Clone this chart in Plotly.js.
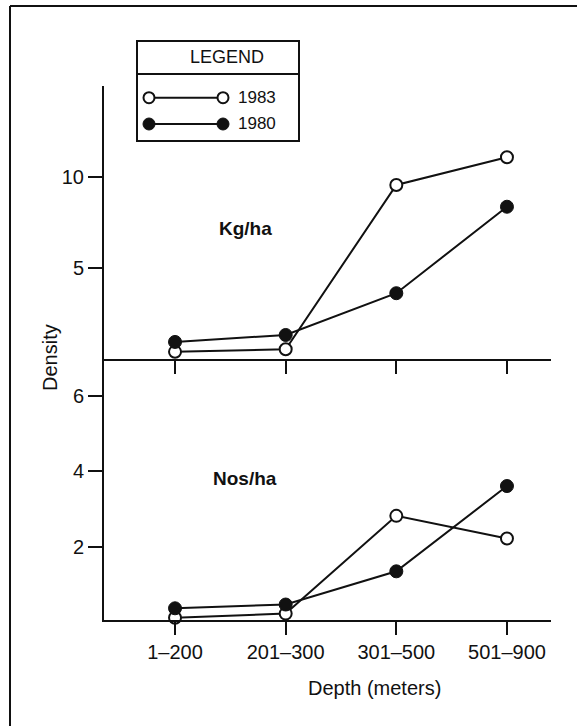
<!DOCTYPE html>
<html><head><meta charset="utf-8">
<script src="https://cdn.plot.ly/plotly-3.0.1.min.js"></script>
<style>html,body{margin:0;padding:0;background:#fff}</style>
</head><body><div id="chart" style="width:577px;height:726px"></div>
<script>
// ---- data ----
const depthLabels = ['1\u2013200', '201\u2013300', '301\u2013500', '501\u2013900'];
const kg1983 = [0.44, 0.58, 9.55, 11.06];
const kg1980 = [0.98, 1.36, 3.64, 8.36];
const nos1983 = [0.12, 0.23, 2.82, 2.22];
const nos1980 = [0.37, 0.47, 1.35, 3.61];
const kgTicks = [5, 10];
const nosTicks = [2, 4, 6];
const yearLabels = ['1983', '1980'];

// ---- layout helpers (pixel -> paper) ----
const L = 104, R = 551, T = 86, B = 620;
const W = R - L, H = B - T;
const px = x => (x - L) / W;
const py = y => (B - y) / H;
const FONT = 'Liberation Sans, Arial, sans-serif';
const INK = '#111';

const openMarker = {symbol: 'circle', size: 12, color: '#fff', line: {color: INK, width: 2}};
const fillMarker = {symbol: 'circle', size: 13, color: INK, line: {color: INK, width: 1}};
const lineStyle = {color: INK, width: 2};

const traces = [
  {x: depthLabels, y: kg1983, xaxis: 'x2', yaxis: 'y2', mode: 'lines+markers', marker: openMarker, line: lineStyle, cliponaxis: false, name: yearLabels[0]},
  {x: depthLabels, y: kg1980, xaxis: 'x2', yaxis: 'y2', mode: 'lines+markers', marker: fillMarker, line: lineStyle, cliponaxis: false, name: yearLabels[1]},
  {x: depthLabels, y: nos1983, xaxis: 'x', yaxis: 'y', mode: 'lines+markers', marker: openMarker, line: lineStyle, cliponaxis: false, name: yearLabels[0]},
  {x: depthLabels, y: nos1980, xaxis: 'x', yaxis: 'y', mode: 'lines+markers', marker: fillMarker, line: lineStyle, cliponaxis: false, name: yearLabels[1]}
];

const split = py(358.5);
const xCommon = {
  type: 'category', categoryorder: 'array', categoryarray: depthLabels,
  range: [-0.642, 3.398], showline: true, linecolor: INK, linewidth: 2,
  ticks: 'outside', ticklen: 13, tickwidth: 2, tickcolor: INK,
  showgrid: false, zeroline: false, fixedrange: true,
  tickfont: {family: FONT, size: 20, color: INK}
};
const yCommon = {
  showline: true, linecolor: INK, linewidth: 2,
  ticks: 'outside', ticklen: 14, tickwidth: 2, tickcolor: INK,
  showgrid: false, zeroline: false, fixedrange: true,
  tickfont: {family: FONT, size: 20, color: INK}
};

function circle(x, y, d, filled) {
  return {type: 'circle', xref: 'paper', yref: 'paper', xsizemode: 'pixel', ysizemode: 'pixel',
    xanchor: px(x), yanchor: py(y), x0: -d / 2, x1: d / 2, y0: -d / 2, y1: d / 2,
    fillcolor: filled ? INK : '#fff', line: {color: INK, width: filled ? 1 : 2}};
}
function seg(x0, y0, x1, y1, w) {
  return {type: 'line', xref: 'paper', yref: 'paper', x0: px(x0), y0: py(y0), x1: px(x1), y1: py(y1),
    line: {color: INK, width: w || 2}};
}

const shapes = [
  // frame
  seg(10, 6, 577, 6, 2),
  seg(10, 6, 10, 726, 2),
  // legend box
  {type: 'rect', xref: 'paper', yref: 'paper', x0: px(137), x1: px(299), y0: py(41), y1: py(141),
    line: {color: INK, width: 2}, fillcolor: '#fff'},
  seg(137, 74, 299, 74, 2),
  seg(149, 97.7, 223, 97.7, 2),
  seg(149, 124, 223, 124, 2),
  circle(149, 97.7, 11, false), circle(223, 97.7, 11, false),
  circle(149, 124, 12, true), circle(223, 124, 12, true)
];

function ann(text, x, y, opts) {
  return Object.assign({text: text, xref: 'paper', yref: 'paper', x: px(x), y: py(y),
    xanchor: 'center', yanchor: 'middle', showarrow: false,
    font: {family: FONT, size: 20, color: INK}}, opts || {});
}

const annotations = [
  ann('LEGEND', 227, 57.5, {font: {family: FONT, size: 18, color: INK}}),
  ann(yearLabels[0], 236, 97.7, {xanchor: 'left', font: {family: FONT, size: 17, color: INK}}),
  ann(yearLabels[1], 236, 124, {xanchor: 'left', font: {family: FONT, size: 17, color: INK}}),
  ann('<b>Kg/ha</b>', 245, 228, {font: {family: FONT, size: 19, color: INK}}),
  ann('<b>Nos/ha</b>', 245, 478, {font: {family: FONT, size: 19, color: INK}}),
  ann('Density', 50, 358, {textangle: -90}),
  ann('Depth (meters)', 374, 688)
];

const layout = {
  width: 577, height: 726,
  margin: {l: L, r: 577 - R, t: T, b: 726 - B, pad: 0},
  paper_bgcolor: '#fff', plot_bgcolor: '#fff',
  showlegend: false,
  xaxis: Object.assign({}, xCommon, {domain: [0, 1], anchor: 'y', ticklabelstandoff: 0}),
  yaxis: Object.assign({}, yCommon, {domain: [0, split], anchor: 'x', range: [0.06, 6.99], tickvals: nosTicks}),
  xaxis2: Object.assign({}, xCommon, {domain: [0, 1], anchor: 'y2', showticklabels: false}),
  yaxis2: Object.assign({}, yCommon, {domain: [split, 1], anchor: 'x2', range: [0.076, 14.95], tickvals: kgTicks}),
  shapes: shapes,
  annotations: annotations
};

Plotly.newPlot('chart', traces, layout, {staticPlot: true, displayModeBar: false});
</script>
</body></html>
